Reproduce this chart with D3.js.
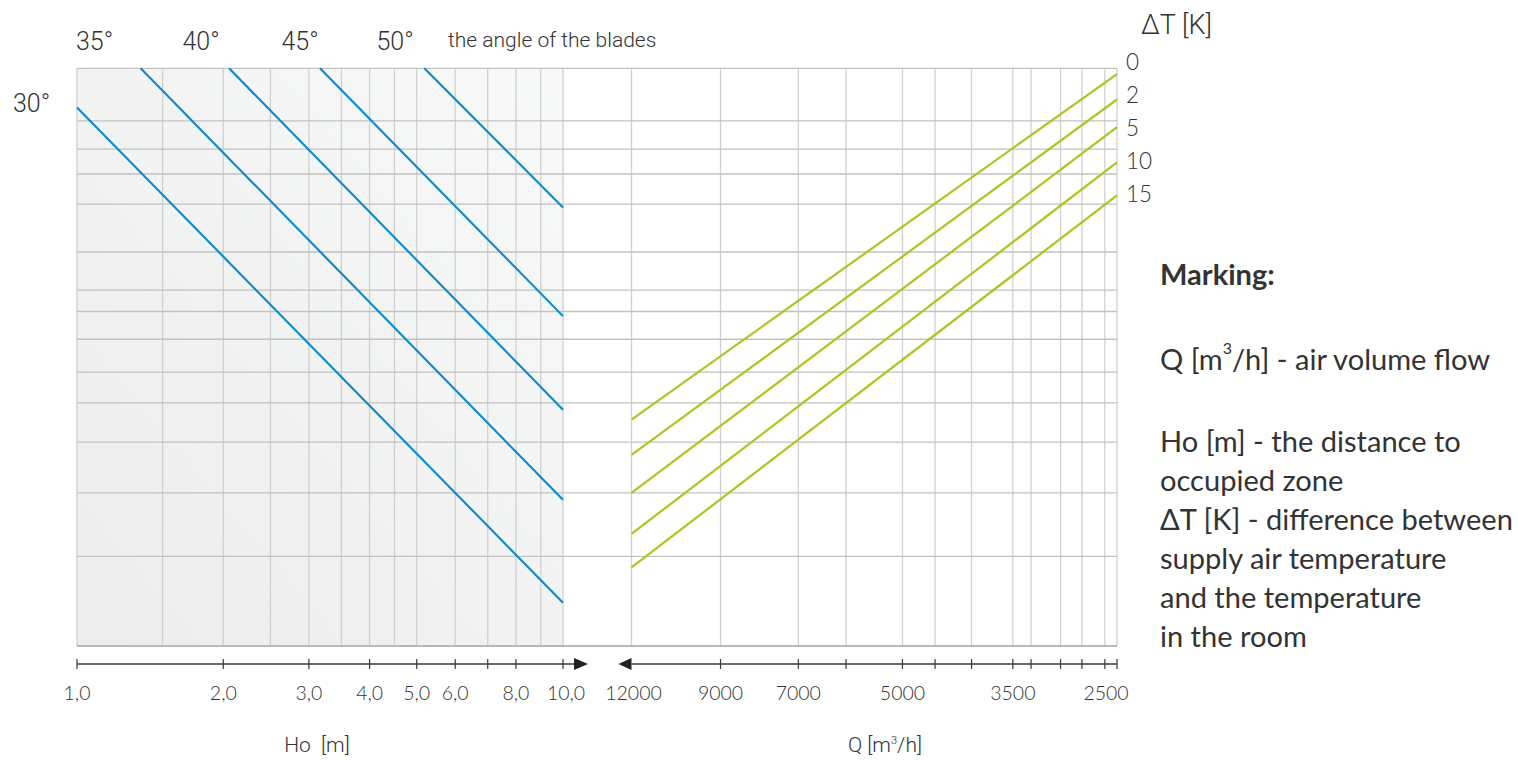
<!DOCTYPE html>
<html><head><meta charset="utf-8">
<script src="https://cdn.jsdelivr.net/npm/d3@7"></script>
<style>body{margin:0;background:#fff;overflow:hidden}</style>
</head><body><svg id="c" width="1518" height="760"></svg>
<script>
// ---------------- data ----------------
const hoTicks = [1, 2, 3, 4, 5, 6, 7, 8, 10];
const hoTickLabels = ["1,0", "2,0", "3,0", "4,0", "5,0", "6,0", "", "8,0", "10,0"];
const hoGrid = [1, 1.5, 2, 2.5, 3, 3.5, 4, 4.5, 5, 6, 7, 8, 9, 10];
const qTicks = [9000, 7000, 6000, 5000, 4500, 4000, 3500, 3300, 3000, 2800, 2600, 2500];
const qLabels = [12000, 9000, 7000, 5000, 3500, 2500];
const qGrid = [12000, 9000, 7000, 6000, 5000, 4500, 4000, 3500, 3300, 3000, 2800, 2600, 2500];
const yGrid = [100, 90.9, 86.0, 81.7, 76.5, 68.2, 61.6, 57.9, 53.1, 47.4, 42.1, 35.3, 26.5, 15.5];
const bladeAngles = ["30°", "35°", "40°", "45°", "50°"];
const bladeStartHo = [1.0, 1.352, 2.055, 3.162, 5.184];
const bladeStartY = [93.2, 100, 100, 100, 100];
const bladeEndHo = [10, 10, 10, 10, 10];
const bladeEndY = [7.5, 25.3, 40.9, 57.1, 75.9];
const dTValues = [0, 2, 5, 10, 15];
const dTStartQ = [12000, 12000, 12000, 12000, 12000];
const dTStartY = [39.2, 33.1, 26.5, 19.4, 13.6];
const dTEndQ = [2500, 2500, 2500, 2500, 2500];
const dTEndY = [99.0, 94.6, 89.8, 83.7, 78.0];
const markingTitle = "Marking:";
const markingLines = ["Ho [m] - the distance to", "occupied zone", "ΔT [K] - difference between",
  "supply air temperature", "and the temperature", "in the room"];

// ---------------- layout ----------------
const svg = d3.select("#c");
const L = {x0: 77, x1: 563}, R = {x0: 631.5, x1: 1117};
const yTop = 68.3, yBot = 646, axisY = 664;
const xHo = d3.scaleLog().domain([1, 10]).range([L.x0, L.x1]);
const xQ = d3.scaleLog().domain([12000, 2500]).range([R.x0, R.x1]);
const y = d3.scaleLinear().domain([0, 100]).range([yBot, yTop]);

const defs = svg.append("defs");
const grad = defs.append("linearGradient").attr("id", "bg").attr("x1", "0").attr("y1", "1").attr("x2", "1").attr("y2", "0");
grad.append("stop").attr("offset", "0").attr("stop-color", "#ececec");
grad.append("stop").attr("offset", "1").attr("stop-color", "#f8f9f9");

svg.append("rect").attr("x", xHo(1)).attr("y", y(100)).attr("width", xHo(10) - xHo(1))
  .attr("height", y(0) - y(100)).attr("fill", "url(#bg)");

// vertical grid
svg.append("g").selectAll("line").data(hoGrid).join("line")
  .attr("x1", d => xHo(d)).attr("x2", d => xHo(d)).attr("y1", y(100)).attr("y2", y(0))
  .attr("stroke", "#d0d0d0").attr("stroke-width", 1.3);
svg.append("g").selectAll("line").data(qGrid).join("line")
  .attr("x1", d => xQ(d)).attr("x2", d => xQ(d)).attr("y1", y(100)).attr("y2", y(0))
  .attr("stroke", "#d0d0d0").attr("stroke-width", 1.3);
// horizontal grid
svg.append("g").selectAll("line").data(yGrid).join("line")
  .attr("x1", xHo(1)).attr("x2", xQ(2500)).attr("y1", d => y(d)).attr("y2", d => y(d))
  .attr("stroke", "#c2c2c2").attr("stroke-width", 1.3);
svg.append("line").attr("x1", xHo(1)).attr("x2", xQ(2500)).attr("y1", y(0)).attr("y2", y(0))
  .attr("stroke", "#b8b8b8").attr("stroke-width", 2.2);

// blue lines
svg.append("g").selectAll("line").data(bladeAngles).join("line")
  .attr("x1", (d, i) => xHo(bladeStartHo[i])).attr("y1", (d, i) => y(bladeStartY[i]))
  .attr("x2", (d, i) => xHo(bladeEndHo[i])).attr("y2", (d, i) => y(bladeEndY[i]))
  .attr("stroke", "#0a8acd").attr("stroke-width", 2.1);
// green lines
svg.append("g").selectAll("line").data(dTValues).join("line")
  .attr("x1", (d, i) => xQ(dTStartQ[i])).attr("y1", (d, i) => y(dTStartY[i]))
  .attr("x2", (d, i) => xQ(dTEndQ[i])).attr("y2", (d, i) => y(dTEndY[i]))
  .attr("stroke", "#a9c71f").attr("stroke-width", 2.2);

// ---------------- axes ----------------
const axCol = "#3a3a3a";
const tickFont = "Lato, 'DejaVu Sans', sans-serif";
// left axis
svg.append("line").attr("x1", xHo(1)).attr("x2", xHo(10) + 11).attr("y1", axisY).attr("y2", axisY)
  .attr("stroke", axCol).attr("stroke-width", 1.3);
svg.append("path").attr("d", `M${xHo(10) + 11},${axisY - 6}L${xHo(10) + 25},${axisY}L${xHo(10) + 11},${axisY + 6}Z`).attr("fill", "#222");
svg.append("g").selectAll("line").data(hoTicks).join("line")
  .attr("x1", d => xHo(d)).attr("x2", d => xHo(d)).attr("y1", axisY - 5).attr("y2", axisY + 5)
  .attr("stroke", axCol).attr("stroke-width", 1.2);
svg.append("g").selectAll("text").data(hoTicks).join("text")
  .attr("x", d => xHo(d) + (d === 10 ? 3 : 0)).attr("y", 700).attr("text-anchor", "middle")
  .attr("font-family", tickFont).attr("font-weight", 300).attr("font-size", 19.5).attr("fill", "#333")
  .text((d, i) => hoTickLabels[i]);
// right axis
svg.append("line").attr("x1", xQ(12000)).attr("x2", xQ(2500)).attr("y1", axisY).attr("y2", axisY)
  .attr("stroke", axCol).attr("stroke-width", 1.3);
svg.append("path").attr("d", `M${xQ(12000)},${axisY - 6}L${xQ(12000) - 13},${axisY}L${xQ(12000)},${axisY + 6}Z`).attr("fill", "#222");
svg.append("g").selectAll("line").data(qTicks).join("line")
  .attr("x1", d => xQ(d)).attr("x2", d => xQ(d)).attr("y1", axisY - 5).attr("y2", axisY + 5)
  .attr("stroke", axCol).attr("stroke-width", 1.2);
svg.append("g").selectAll("text").data(qLabels).join("text")
  .attr("x", d => xQ(d) + (d === 2500 ? -11 : d === 12000 ? 2 : 0)).attr("y", 700).attr("text-anchor", "middle")
  .attr("font-family", tickFont).attr("font-weight", 300).attr("font-size", 19.5).attr("fill", "#333")
  .text(d => d);

// axis titles
const helv = "Roboto, 'Liberation Sans', Arial, sans-serif";
svg.append("text").attr("x", 317).attr("y", 752).attr("text-anchor", "middle")
  .attr("font-family", helv).attr("font-weight", 300).attr("font-size", 21).attr("fill", "#333")
  .attr("xml:space", "preserve").text("Ho  [m]");
const qt = svg.append("text").attr("x", 885).attr("y", 752).attr("text-anchor", "middle")
  .attr("font-family", helv).attr("font-weight", 300).attr("font-size", 21).attr("fill", "#333");
qt.append("tspan").text("Q [m");
qt.append("tspan").attr("font-size", 11).attr("dy", -8).text("3");
qt.append("tspan").attr("dy", 8).text("/h]");

// blade angle labels
const angleX = [13, 76, 182.5, 281.5, 376.5];
const angleY = [111.5, 50, 50, 50, 50];
svg.append("g").selectAll("text").data(bladeAngles).join("text")
  .attr("x", (d, i) => angleX[i]).attr("y", (d, i) => angleY[i])
  .attr("font-family", helv).attr("font-weight", 300).attr("font-size", 25).attr("fill", "#333").text(d => d);
svg.append("text").attr("x", 448).attr("y", 47).attr("font-family", helv).attr("font-weight", 300).attr("font-size", 21)
  .attr("fill", "#333").text("the angle of the blades");

// ΔT labels
svg.append("text").attr("x", 1141).attr("y", 34).attr("font-family", helv).attr("font-weight", 300).attr("font-size", 27)
  .attr("fill", "#333").text("ΔT [K]");
svg.append("g").selectAll("text").data(dTValues).join("text")
  .attr("x", 1126).attr("y", (d, i) => 70 + i * 32.9)
  .attr("font-family", tickFont).attr("font-weight", 300).attr("font-size", 22.5).attr("fill", "#333").text(d => d);

// Marking block
const mFont = "Lato, 'Open Sans', sans-serif";
const mg = svg.append("g").attr("font-family", mFont).attr("fill", "#333");
const probe = mg.append("text").attr("font-size", 30).text(markingLines[2]);
const fs = 30 * 353 / probe.node().getComputedTextLength();
probe.remove();
mg.append("text").attr("x", 1160).attr("y", 285).attr("font-size", fs).attr("font-weight", "bold").text(markingTitle);
const qm = mg.append("text").attr("x", 1160).attr("y", 370).attr("font-size", fs);
qm.append("tspan").text("Q [m");
qm.append("tspan").attr("font-size", fs * 0.55).attr("dy", -fs * 0.55).text("3");
qm.append("tspan").attr("dy", fs * 0.55).text("/h] - air volume flow");
mg.selectAll("text.ml").data(markingLines).join("text").attr("class", "ml")
  .attr("x", 1160).attr("y", (d, i) => 452 + i * 39).attr("font-size", fs).text(d => d);
</script></body></html>
